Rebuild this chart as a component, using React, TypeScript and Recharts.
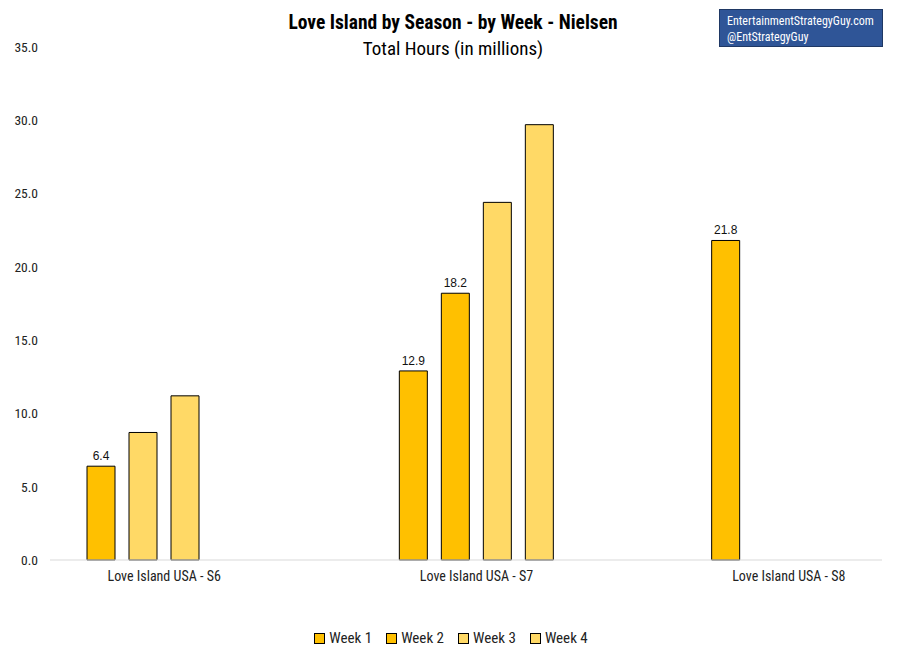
import { Bar, BarChart, Cell, LabelList, Legend, XAxis, YAxis } from "recharts";

const SEASONS = ["Love Island USA - S6", "Love Island USA - S7", "Love Island USA - S8"];
const WEEKS = ["Week 1", "Week 2", "Week 3", "Week 4"];

// total hours in millions, null = not aired yet
const WEEK1 = [6.4, 12.9, 21.8];
const WEEK2 = [8.7, 18.2, null];
const WEEK3 = [11.2, 24.4, null];
const WEEK4 = [null, 29.7, null];

// which bars are highlighted (dark fill + value label)
const HIGHLIGHT1 = [true, true, true];
const HIGHLIGHT2 = [false, true, false];
const HIGHLIGHT3 = [false, false, false];
const HIGHLIGHT4 = [false, false, false];

const Y_TICKS = [0, 5, 10, 15, 20, 25, 30, 35];

const DARK = "#FFC000";
const LIGHT = "#FFD966";
const FONT = '"Roboto Condensed", "Liberation Sans Narrow", "DejaVu Sans Condensed", Roboto, sans-serif';

const SERIES = [
  { name: WEEKS[0], values: WEEK1, hi: HIGHLIGHT1, color: DARK },
  { name: WEEKS[1], values: WEEK2, hi: HIGHLIGHT2, color: DARK },
  { name: WEEKS[2], values: WEEK3, hi: HIGHLIGHT3, color: LIGHT },
  { name: WEEKS[3], values: WEEK4, hi: HIGHLIGHT4, color: LIGHT },
];

const data = SEASONS.map((season, i) => {
  const row: Record<string, string | number | null> = { season };
  SERIES.forEach((s, k) => {
    row[`w${k}`] = s.values[i];
  });
  return row;
});

function LegendContent() {
  return (
    <div
      style={{
        display: "flex",
        justifyContent: "center",
        gap: 14,
        fontFamily: FONT,
        fontSize: 15,
        color: "#222",
        paddingLeft: 20,
        paddingTop: 3,
      }}
    >
      {SERIES.map((s) => (
        <div key={s.name} style={{ display: "flex", alignItems: "center", gap: 4 }}>
          <span
            style={{
              width: 9,
              height: 9,
              background: s.color,
              border: "1px solid #000",
              display: "inline-block",
            }}
          />
          <span>{s.name}</span>
        </div>
      ))}
    </div>
  );
}

export default function App() {
  return (
    <div style={{ position: "absolute", left: 0, top: 0, width: 897, height: 660, background: "#fff" }}>
      <div
        style={{
          position: "absolute",
          left: 0,
          top: 11,
          width: 906,
          textAlign: "center",
          fontFamily: FONT,
          color: "#000",
        }}
      >
        <div style={{ fontSize: 19.5, fontWeight: 700, lineHeight: "24px" }}>
          Love Island by Season - by Week - Nielsen
        </div>
        <div style={{ fontSize: 19, lineHeight: "28px" }}>Total Hours (in millions)</div>
      </div>
      <div
        style={{
          position: "absolute",
          left: 719,
          top: 9,
          width: 164,
          height: 38,
          background: "#2F5597",
          border: "1px solid #1F3864",
          color: "#fff",
          fontFamily: FONT,
          fontSize: 12,
          lineHeight: "16px",
          padding: "3px 0 0 7px",
          boxSizing: "border-box",
        }}
      >
        <div>EntertainmentStrategyGuy.com</div>
        <div>@EntStrategyGuy</div>
      </div>
      <BarChart
        width={897}
        height={660}
        data={data}
        margin={{ top: 47, right: 15, left: 0, bottom: 14 }}
        barSize={28}
        barGap={14}
      >
        <XAxis
          dataKey="season"
          interval={0}
          tickLine={false}
          tickSize={0}
          tickMargin={11}
          height={66}
          padding={{ left: -42, right: -63 }}
          axisLine={{ stroke: "#D9D9D9" }}
          tick={{ fontFamily: FONT, fontSize: 14, fill: "#222" }}
        />
        <YAxis
          domain={[0, 35]}
          ticks={Y_TICKS}
          width={50}
          axisLine={false}
          tickLine={false}
          tickSize={0}
          tickMargin={12}
          tickFormatter={(v: number) => v.toFixed(1)}
          tick={{ fontFamily: FONT, fontSize: 13.5, fill: "#222" }}
        />
        <Legend verticalAlign="bottom" height={20} content={<LegendContent />} />
        {SERIES.map((s, k) => (
          <Bar
            key={s.name}
            dataKey={`w${k}`}
            name={s.name}
            fill={s.color}
            stroke="#000"
            strokeWidth={1}
            isAnimationActive={false}
          >
            {SEASONS.map((season, i) => (
              <Cell key={season} fill={s.hi[i] ? DARK : LIGHT} />
            ))}
            <LabelList
              dataKey={`w${k}`}
              position="top"
              offset={6}
              content={(props: any) => {
                const { x, y, width, value, index } = props;
                if (value == null || !s.hi[index]) return null;
                return (
                  <text
                    x={Number(x) + Number(width) / 2}
                    y={Number(y) - 6}
                    textAnchor="middle"
                    fontFamily="Liberation Sans, Arial, sans-serif"
                    fontSize={12}
                    fill="#111"
                  >
                    {Number(value).toFixed(1)}
                  </text>
                );
              }}
            />
          </Bar>
        ))}
      </BarChart>
    </div>
  );
}
